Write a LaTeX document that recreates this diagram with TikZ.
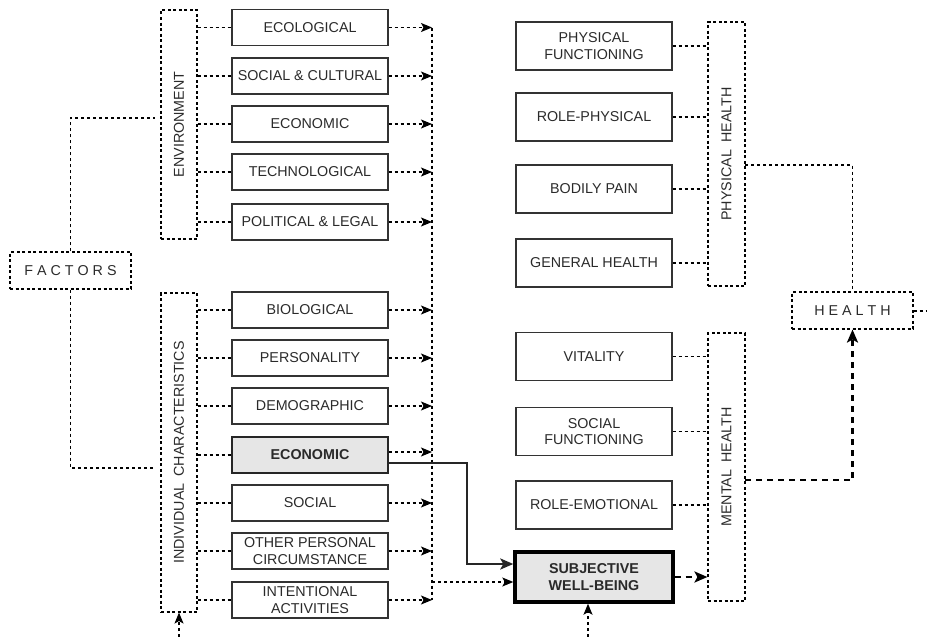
\documentclass[tikz,border=0pt]{standalone}
\usepackage{fontspec}
\setmainfont{Liberation Sans}
\usetikzlibrary{arrows.meta,calc}
\definecolor{txt}{HTML}{2A2A2A}
\definecolor{bx}{HTML}{333333}
\definecolor{hl}{HTML}{E6E6E6}
\begin{document}
\begin{tikzpicture}[x=1pt,y=-1pt,
  font=\fontsize{14.3}{16.7}\selectfont,
  lbox/.style={draw=bx,line width=1.4pt,minimum width=156pt,minimum height=36pt,inner sep=1pt,align=center,text=txt},
  rbox/.style={draw=bx,line width=1.4pt,minimum width=156pt,minimum height=48pt,inner sep=1pt,align=center,text=txt},
  cont/.style={draw=black,line width=1.1pt,dash pattern=on 3pt off 2.5pt,inner sep=0pt,text=txt},
  dl/.style={draw=black,line width=1.1pt,dash pattern=on 3pt off 3pt},
  dla/.style={dl,-{Stealth[length=11pt,width=9pt,inset=2.5pt]}},
  thk/.style={draw=black,line width=2.6pt,dash pattern=on 6pt off 5pt},
  thka/.style={thk,-{Stealth[length=13pt,width=11pt,inset=3pt]}},
  sol/.style={draw=black!85,line width=2.8pt,-{Stealth[length=13pt,width=11pt,inset=3pt]}}
]
\useasboundingbox (0,0) rectangle (927,637);

% containers
\node[cont,minimum width=36pt,minimum height=229pt] (env) at (179,124.5) {};
\node[rotate=90,text=txt] at (env.center) {ENVIRONMENT};
\node[cont,minimum width=36pt,minimum height=319pt] (ind) at (179,452.5) {};
\node[rotate=90,text=txt] at (ind.center) {INDIVIDUAL\hspace{0.5em}CHARACTERISTICS};
\node[cont,minimum width=37pt,minimum height=264pt] (ph) at (726.5,154) {};
\node[rotate=90,text=txt] at (ph.center) {PHYSICAL\hspace{0.5em}HEALTH};
\node[cont,minimum width=37pt,minimum height=268pt] (mh) at (726.5,467) {};
\node[rotate=90,text=txt] at (mh.center) {MENTAL\hspace{0.5em}HEALTH};

\node[cont,minimum width=121pt,minimum height=37pt] (factors) at (70.5,270.5) {F A C T O R S};
\node[cont,minimum width=121pt,minimum height=37pt] (health) at (852.5,310.5) {H E A L T H};

% left boxes
\node[lbox] (e1) at (310,27.5) {ECOLOGICAL};
\node[lbox] (e2) at (310,76) {SOCIAL \& CULTURAL};
\node[lbox] (e3) at (310,124) {ECONOMIC};
\node[lbox] (e4) at (310,172) {TECHNOLOGICAL};
\node[lbox] (e5) at (310,222) {POLITICAL \& LEGAL};
\node[lbox] (i1) at (310,310) {BIOLOGICAL};
\node[lbox] (i2) at (310,358) {PERSONALITY};
\node[lbox] (i3) at (310,406) {DEMOGRAPHIC};
\node[lbox,fill=hl,draw=black!85,line width=2.6pt,font=\fontsize{14.3}{16.7}\selectfont\bfseries] (i4) at (310,455) {ECONOMIC};
\node[lbox] (i5) at (310,503) {SOCIAL};
\node[lbox] (i6) at (310,551) {OTHER PERSONAL\\CIRCUMSTANCE};
\node[lbox] (i7) at (310,600) {INTENTIONAL\\ACTIVITIES};

% right boxes
\node[rbox] (p1) at (594,46) {PHYSICAL\\FUNCTIONING};
\node[rbox] (p2) at (594,117) {ROLE-PHYSICAL};
\node[rbox] (p3) at (594,189) {BODILY PAIN};
\node[rbox] (p4) at (594,263) {GENERAL HEALTH};
\node[rbox] (m1) at (594,356.5) {VITALITY};
\node[rbox] (m2) at (594,431.5) {SOCIAL\\FUNCTIONING};
\node[rbox] (m3) at (594,505) {ROLE-EMOTIONAL};
\node[rbox,fill=hl,draw=black,line width=3.4pt,minimum width=158pt,minimum height=50pt,font=\fontsize{14.3}{16.7}\selectfont\bfseries] (swb) at (594,577) {SUBJECTIVE\\WELL-BEING};

% coordinates
\coordinate (busTop) at (432,27.5);
\coordinate (busBot) at (432,600);
\coordinate (busJ) at (432,582);
\coordinate (envIn) at (155,118);
\coordinate (indIn) at (155,468);
\coordinate (phOut) at (745,165);
\coordinate (mhOut) at (745,480);
\coordinate (hout) at (927,311);
\coordinate (indBelow) at (179,637);
\coordinate (swbBelow) at (588,637);
\coordinate (ecoTurn) at (467,463);

% factors
\draw[dl] (factors.north) |- (envIn);
\draw[dl] (factors.south) |- (indIn);

% container to boxes
\foreach \b in {e1,e2,e3,e4,e5} \draw[dl] (env.east |- \b.west) -- (\b.west);
\foreach \b in {i1,i2,i3,i4,i5,i6,i7} \draw[dl] (ind.east |- \b.west) -- (\b.west);

% boxes to bus
\draw[dl] (busTop) -- (busBot);
\foreach \b in {e1,e2,e3,e4,e5,i1,i2,i3,i5,i6,i7} \draw[dla] (\b.east) -- (\b.east -| busTop);
\draw[dla] ([yshift=3pt]i4.east) -- ([yshift=3pt]i4.east -| busTop);
\draw[sol] ([yshift=-8pt]i4.east) -- (ecoTurn) |- ([yshift=13pt]swb.west);
\draw[dla] (busJ) -- (swb.west |- busJ);
\draw[dla] (swbBelow) -- (swb.south -| swbBelow);
\draw[dla] (indBelow) -- (ind.south);

% right boxes to containers
\foreach \b in {p1,p2,p3,p4} \draw[dl] (\b.east) -- (\b.east -| ph.west);
\foreach \b in {m1,m2,m3} \draw[dl] (\b.east) -- (\b.east -| mh.west);

\draw[thka] (swb.east) -- (swb.east -| mh.west);
\draw[dl] (phOut) -| (health.north);
\draw[thka] (mhOut) -| (health.south);
\draw[dl] (health.east |- hout) -- (hout);
\end{tikzpicture}
\end{document}
